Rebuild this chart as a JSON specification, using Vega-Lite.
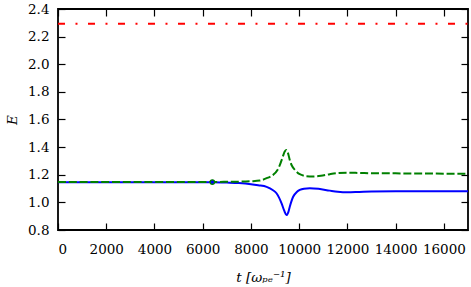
{
  "$schema": "https://vega.github.io/schema/vega-lite/v6.json",
  "width": 410,
  "height": 221,
  "autosize": "none",
  "padding": {"left": 58, "top": 9, "right": 3, "bottom": 57},
  "config": {
    "view": {"stroke": "black", "strokeWidth": 1.8},
    "axis": {
      "grid": false,
      "domain": false,
      "tickColor": "black",
      "tickSize": -7,
      "tickWidth": 1.2,
      "labelFont": "DejaVu Serif",
      "labelFontSize": 13.5,
      "labelColor": "black",
      "titleFont": "DejaVu Serif",
      "titleFontSize": 13.5,
      "titleFontWeight": "normal",
      "titleColor": "black"
    }
  },
  "datasets": {
    "red": [{"t": 0, "E": 2.293}, {"t": 17000, "E": 2.293}],
    "blue": [
      {"t": 0, "E": 1.146}, {"t": 2000, "E": 1.146}, {"t": 4000, "E": 1.145}, {"t": 6000, "E": 1.145},
      {"t": 6400, "E": 1.145}, {"t": 7000, "E": 1.143}, {"t": 7500, "E": 1.140}, {"t": 8000, "E": 1.132},
      {"t": 8300, "E": 1.124}, {"t": 8650, "E": 1.112}, {"t": 8900, "E": 1.090}, {"t": 9060, "E": 1.066},
      {"t": 9270, "E": 0.993}, {"t": 9380, "E": 0.940}, {"t": 9475, "E": 0.908}, {"t": 9550, "E": 0.930},
      {"t": 9610, "E": 0.969}, {"t": 9750, "E": 1.041}, {"t": 9900, "E": 1.075}, {"t": 10025, "E": 1.090},
      {"t": 10200, "E": 1.099}, {"t": 10440, "E": 1.102}, {"t": 10800, "E": 1.098}, {"t": 11270, "E": 1.085},
      {"t": 11600, "E": 1.077}, {"t": 12000, "E": 1.073}, {"t": 12500, "E": 1.076}, {"t": 13000, "E": 1.079},
      {"t": 14000, "E": 1.080}, {"t": 15000, "E": 1.080}, {"t": 16000, "E": 1.080}, {"t": 17000, "E": 1.080}
    ],
    "green": [
      {"t": 0, "E": 1.148}, {"t": 2000, "E": 1.148}, {"t": 4000, "E": 1.148}, {"t": 6000, "E": 1.148},
      {"t": 6400, "E": 1.148}, {"t": 7000, "E": 1.149}, {"t": 7540, "E": 1.150}, {"t": 8000, "E": 1.153},
      {"t": 8370, "E": 1.158}, {"t": 8650, "E": 1.175}, {"t": 8920, "E": 1.199}, {"t": 9100, "E": 1.235},
      {"t": 9200, "E": 1.271}, {"t": 9300, "E": 1.320}, {"t": 9400, "E": 1.368}, {"t": 9475, "E": 1.380},
      {"t": 9540, "E": 1.355}, {"t": 9610, "E": 1.307}, {"t": 9700, "E": 1.265}, {"t": 9820, "E": 1.235},
      {"t": 9950, "E": 1.212}, {"t": 10100, "E": 1.199}, {"t": 10300, "E": 1.189}, {"t": 10575, "E": 1.187},
      {"t": 10900, "E": 1.192}, {"t": 11270, "E": 1.204}, {"t": 11600, "E": 1.212}, {"t": 12000, "E": 1.215},
      {"t": 12500, "E": 1.213}, {"t": 13000, "E": 1.211}, {"t": 14000, "E": 1.210}, {"t": 15000, "E": 1.209},
      {"t": 16000, "E": 1.208}, {"t": 17000, "E": 1.208}
    ],
    "marker": [{"t": 6400, "E": 1.147}]
  },
  "encoding": {
    "x": {"field": "t", "type": "quantitative", "scale": {"domain": [0, 17000], "nice": false, "zero": false}},
    "y": {"field": "E", "type": "quantitative", "scale": {"domain": [0.8, 2.4], "nice": false, "zero": false}}
  },
  "layer": [
    {
      "data": {"name": "red"},
      "mark": {"type": "line", "color": "#ff0000", "strokeWidth": 2, "strokeDash": [7, 10.5, 2, 10.5], "strokeCap": "butt"},
      "encoding": {
        "x": {"field": "t", "type": "quantitative", "axis": {"orient": "bottom", "values": [0, 2000, 4000, 6000, 8000, 10000, 12000, 14000, 16000], "format": "d", "labelPadding": 19, "title": "t [ωₚₑ⁻¹]", "titleFontStyle": "italic", "titlePadding": 15}},
        "y": {"field": "E", "type": "quantitative", "axis": {"orient": "left", "values": [0.8, 1.0, 1.2, 1.4, 1.6, 1.8, 2.0, 2.2, 2.4], "format": ".1f", "labelPadding": 16, "title": "E", "titleFontStyle": "italic", "titlePadding": 8}}
      }
    },
    {
      "data": {"name": "blue"},
      "mark": {"type": "line", "color": "#0000ff", "strokeWidth": 2, "interpolate": "monotone"},
      "encoding": {
        "x": {"field": "t", "type": "quantitative", "axis": null},
        "y": {"field": "E", "type": "quantitative", "axis": null}
      }
    },
    {
      "data": {"name": "green"},
      "mark": {"type": "line", "color": "#008000", "strokeWidth": 2, "strokeDash": [8, 2.8], "strokeCap": "butt", "interpolate": "monotone"},
      "encoding": {
        "x": {"field": "t", "type": "quantitative", "axis": null},
        "y": {"field": "E", "type": "quantitative", "axis": null}
      }
    },
    {
      "data": {"name": "marker"},
      "mark": {"type": "point", "shape": "circle", "filled": true, "fill": "#0000ff", "stroke": "#008000", "strokeWidth": 1.2, "size": 20, "opacity": 1},
      "encoding": {
        "x": {"field": "t", "type": "quantitative", "axis": null},
        "y": {"field": "E", "type": "quantitative", "axis": null}
      }
    },
    {
      "data": {"name": "red"},
      "mark": {"type": "line", "opacity": 0},
      "encoding": {
        "x": {"field": "t", "type": "quantitative", "axis": {"orient": "top", "values": [0, 2000, 4000, 6000, 8000, 10000, 12000, 14000, 16000], "labels": false, "title": null}},
        "y": {"field": "E", "type": "quantitative", "axis": {"orient": "right", "values": [0.8, 1.0, 1.2, 1.4, 1.6, 1.8, 2.0, 2.2, 2.4], "labels": false, "title": null}}
      }
    }
  ],
  "resolve": {"axis": {"x": "independent", "y": "independent"}}
}
